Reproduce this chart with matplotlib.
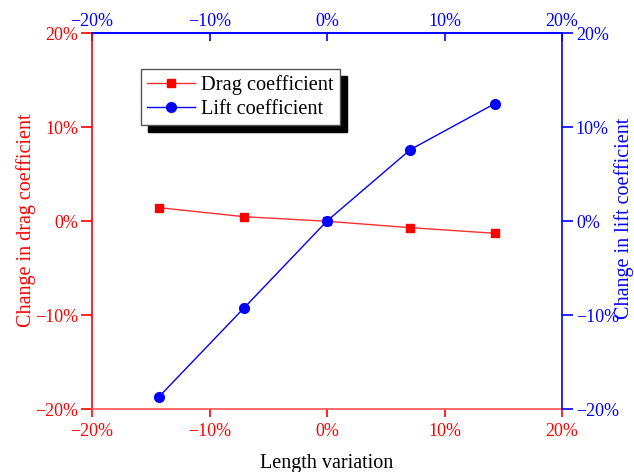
import matplotlib.pyplot as plt
from matplotlib.ticker import FuncFormatter

plt.rcParams['font.family'] = ['Liberation Serif', 'DejaVu Serif']
plt.rcParams['axes.unicode_minus'] = True

length_var = [-14.3, -7.1, 0, 7.1, 14.3]
drag_change = [1.42, 0.46, -0.03, -0.71, -1.31]
lift_change = [-18.7, -9.3, 0, 7.6, 12.5]
ticks = [-20, -10, 0, 10, 20]

pct = FuncFormatter(lambda v, p: f'{v:.0f}%'.replace('-', '\u2212'))

fig = plt.figure(figsize=(6.34, 4.72), dpi=100)
ax = fig.add_axes([92/634, 63/472, 470/634, 376/472])
ax2 = ax.twinx()

l1, = ax.plot(length_var, drag_change, color='#ff3030', lw=1.0, marker='s',
              ms=6, mfc='red', mec='red', label='Drag coefficient')
l2, = ax2.plot(length_var, lift_change, color='blue', lw=1.0, marker='o',
               ms=7, mfc='blue', mec='blue', label='Lift coefficient')

ax.set_xlim(-20, 20)
ax.set_ylim(-20, 20)
ax2.set_ylim(-20, 20)
ax.set_xticks(ticks)
ax.set_yticks(ticks)
ax2.set_yticks(ticks)
ax.xaxis.set_major_formatter(pct)
ax.yaxis.set_major_formatter(pct)
ax2.yaxis.set_major_formatter(pct)

ax.spines['left'].set_color('red')
ax.spines['bottom'].set_color('#ff5050')
ax.spines['top'].set_color('blue')
ax.spines['right'].set_visible(False)
for s in ['left', 'top', 'bottom']:
    ax2.spines[s].set_visible(False)
ax2.spines['right'].set_color('blue')
for s in ax.spines.values():
    s.set_linewidth(1.2)
ax2.spines['right'].set_linewidth(1.2)

ax.tick_params(axis='x', colors='red', labelsize=13, direction='out', length=6, width=1.2, pad=4)
ax.tick_params(axis='y', colors='red', labelsize=13, direction='out', length=8, width=1.2, pad=2)
ax2.tick_params(axis='y', colors='blue', labelsize=13, direction='out', length=8, width=1.2, pad=2)

top = ax.secondary_xaxis('top')
top.set_xticks(ticks)
top.xaxis.set_major_formatter(pct)
top.tick_params(axis='x', colors='blue', labelsize=13, direction='in', length=6, width=1.2, pad=2)
top.spines['top'].set_color('blue')
top.spines['top'].set_linewidth(1.2)

ax.set_xlabel('Length variation', fontsize=14.5, labelpad=10)
ax.set_ylabel('Change in drag coefficient', fontsize=14.5, color='red',
              va='center', ha='center')
ax.yaxis.set_label_coords(-0.140, 0.503)
ax2.set_ylabel('Change in lift coefficient', fontsize=14.5, color='blue',
               va='center', ha='center')
ax2.yaxis.set_label_coords(1.132, 0.508)

ax.legend([l1, l2], ['Drag coefficient', 'Lift coefficient'], loc='upper left',
          bbox_to_anchor=(0.104, 0.905), borderaxespad=0, fontsize=14.7,
          fancybox=False, edgecolor='#555555', framealpha=1,
          shadow={'color': 'black', 'alpha': 1, 'ox': 5, 'oy': -5},
          handlelength=2.35, borderpad=0.3, labelspacing=0.25, handletextpad=0.3)

fig.savefig('out.png', dpi=100)
